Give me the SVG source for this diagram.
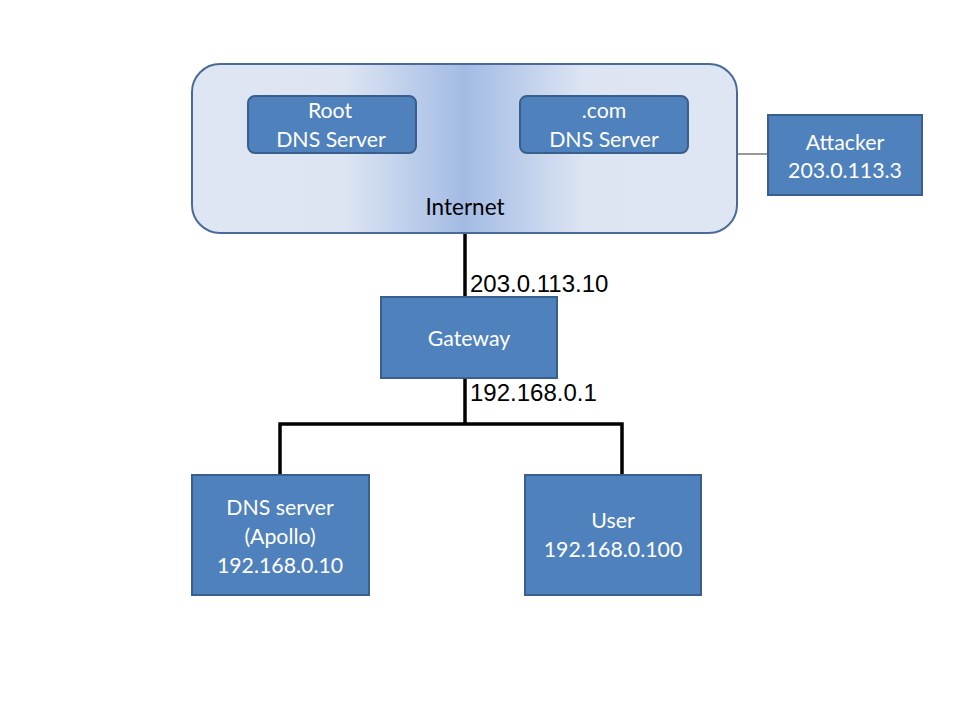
<svg xmlns="http://www.w3.org/2000/svg" width="960" height="720" viewBox="0 0 960 720">
<style>
.box{fill:#4f81bd;stroke:#3b5f8c;stroke-width:2}
.lbl{font-family:Lato,"Open Sans",sans-serif;font-size:21.3px;fill:#ffffff;text-anchor:middle}
.ip{font-family:"Liberation Sans",Arial,sans-serif;font-size:24px;fill:#000000}
.wire{stroke:#000000;stroke-width:3.5;fill:none}
</style>
<defs>
<linearGradient id="netg" x1="0" y1="0" x2="1" y2="0">
<stop offset="0" stop-color="#dee6f3"/>
<stop offset="0.28" stop-color="#dde5f3"/>
<stop offset="0.5" stop-color="#a3bbe4"/>
<stop offset="0.72" stop-color="#dde5f3"/>
<stop offset="1" stop-color="#dee6f3"/>
</linearGradient>
</defs>
<rect width="960" height="720" fill="#ffffff"/>
<g id="connectors">
<line x1="737" y1="154" x2="768" y2="154" stroke="#555555" stroke-width="1.2"/>
<line class="wire" x1="465" y1="233" x2="465" y2="297"/>
<line class="wire" x1="465" y1="378" x2="465" y2="424"/>
<polyline class="wire" points="280,475 280,424 622,424 622,475"/>
</g>
<g id="internet">
<rect x="192" y="64" width="545" height="169" rx="28" fill="url(#netg)" stroke="#4a6b98" stroke-width="2"/>
<text x="465" y="215" font-family="Lato,'Open Sans',sans-serif" font-size="22.5" fill="#000" text-anchor="middle">Internet</text>
</g>
<g id="root">
<rect class="box" x="248" y="96" width="168" height="57" rx="7"/>
<text class="lbl" x="330" y="118">Root</text>
<text class="lbl" x="331" y="147">DNS Server</text>
</g>
<g id="com">
<rect class="box" x="520" y="96" width="168" height="57" rx="7"/>
<text class="lbl" x="604" y="118">.com</text>
<text class="lbl" x="604" y="147">DNS Server</text>
</g>
<g id="attacker">
<rect class="box" x="768" y="115" width="154" height="80"/>
<text class="lbl" x="845" y="150">Attacker</text>
<text class="lbl" x="845" y="178">203.0.113.3</text>
</g>
<g id="gateway">
<rect class="box" x="381" y="297" width="176" height="81"/>
<text class="lbl" x="469" y="346">Gateway</text>
<text class="ip" x="470" y="292">203.0.113.10</text>
<text class="ip" x="470" y="401">192.168.0.1</text>
</g>
<g id="dns">
<rect class="box" x="192" y="475" width="177" height="120"/>
<text class="lbl" x="280" y="515">DNS server</text>
<text class="lbl" x="280" y="544">(Apollo)</text>
<text class="lbl" x="280" y="573">192.168.0.10</text>
</g>
<g id="user">
<rect class="box" x="525" y="475" width="176" height="120"/>
<text class="lbl" x="613" y="528">User</text>
<text class="lbl" x="613" y="557">192.168.0.100</text>
</g>
</svg>
